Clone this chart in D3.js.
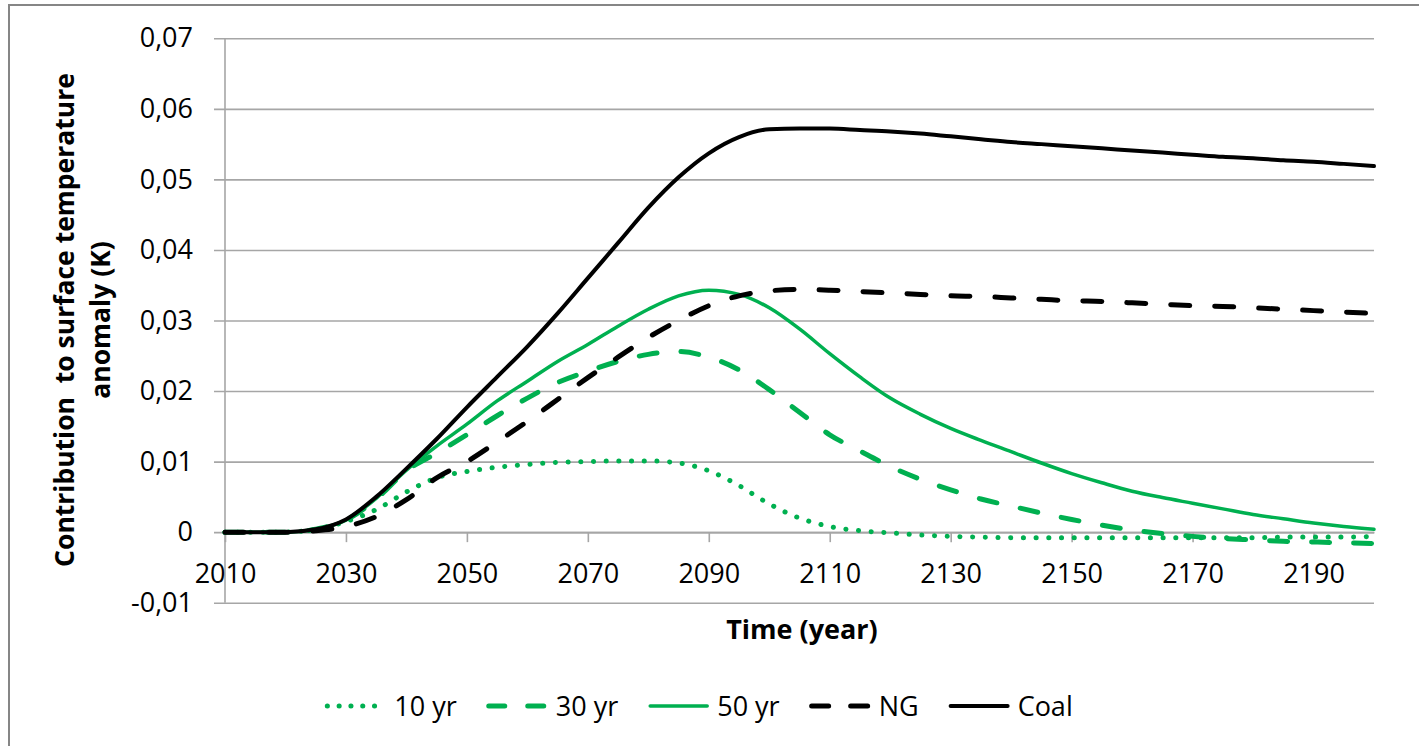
<!DOCTYPE html>
<html>
<head>
<meta charset="utf-8">
<script src="https://cdn.jsdelivr.net/npm/d3@7"></script>
<style>
  body { margin: 0; background: #fff; }
  svg { display: block; font-family: "Open Sans", sans-serif; }
</style>
</head>
<body>
<div id="chart"></div>
<script>
// years on the x axis, one value every 5 years
const years = d3.range(2010, 2201, 5);

const yr10 = [0, 0, 0, 0.0004, 0.0015, 0.0032, 0.0057, 0.0077, 0.0086, 0.0092, 0.0096, 0.0099, 0.0100, 0.0101, 0.0101, 0.0098, 0.0087, 0.0066, 0.0040, 0.0020, 0.0008, 0.0002, -0.0001, -0.0004, -0.0006, -0.0007, -0.0008, -0.0008, -0.0008, -0.0008, -0.0008, -0.0008, -0.0008, -0.0008, -0.0008, -0.0007, -0.0007, -0.0007, -0.0006];
const yr30 = [0, 0, 0, 0.0004, 0.0017, 0.0047, 0.0087, 0.0112, 0.0138, 0.0165, 0.0190, 0.0212, 0.0228, 0.0242, 0.0252, 0.0256, 0.0248, 0.0230, 0.0202, 0.0170, 0.0138, 0.0115, 0.0093, 0.0075, 0.0060, 0.0047, 0.0037, 0.0027, 0.0018, 0.0010, 0.0003, -0.0002, -0.0006, -0.0009, -0.0011, -0.0013, -0.0014, -0.0015, -0.0016];
const yr50 = [0, 0, 0, 0.0004, 0.0017, 0.0048, 0.0088, 0.0122, 0.0153, 0.0186, 0.0214, 0.0242, 0.0266, 0.0292, 0.0316, 0.0335, 0.0343, 0.0337, 0.0318, 0.0288, 0.0253, 0.0220, 0.0190, 0.0167, 0.0147, 0.0130, 0.0114, 0.0098, 0.0083, 0.0070, 0.0058, 0.0049, 0.0041, 0.0033, 0.0025, 0.0019, 0.0013, 0.0008, 0.0004];
const ng = [0, 0, 0, 0.0002, 0.0008, 0.0022, 0.0046, 0.0077, 0.0100, 0.0128, 0.0157, 0.0188, 0.0219, 0.0248, 0.0276, 0.0300, 0.0321, 0.0335, 0.0342, 0.0344, 0.0343, 0.0341, 0.0339, 0.0337, 0.0335, 0.0334, 0.0332, 0.0330, 0.0328, 0.0327, 0.0325, 0.0323, 0.0321, 0.0320, 0.0318, 0.0316, 0.0314, 0.0312, 0.0310];
const coal = [0, 0, 0, 0.0004, 0.0018, 0.0050, 0.0090, 0.0132, 0.0177, 0.0220, 0.0263, 0.0310, 0.0360, 0.0410, 0.0460, 0.0503, 0.0537, 0.0560, 0.0571, 0.0572, 0.0572, 0.0570, 0.0568, 0.0565, 0.0561, 0.0557, 0.0553, 0.0550, 0.0547, 0.0544, 0.0541, 0.0538, 0.0535, 0.0532, 0.0530, 0.0527, 0.0525, 0.0522, 0.0519];

const xTicks = d3.range(2010, 2191, 20);
const yTicks = [-0.01, 0, 0.01, 0.02, 0.03, 0.04, 0.05, 0.06, 0.07];

const seriesNames = ['10 yr', '30 yr', '50 yr', 'NG', 'Coal'];

const green = '#00b050';
const styles = [
  { color: green, width: 5, dash: '0.1 12.6', legendDash: '0.1 11.7' },
  { color: green, width: 5, dash: '18 24', legendDash: '16 23' },
  { color: green, width: 3.5, dash: null, legendDash: null },
  { color: '#000', width: 5, dash: '19 25', legendDash: '17 22' },
  { color: '#000', width: 4, dash: null, legendDash: null }
];
const seriesValues = [yr10, yr30, yr50, ng, coal];

const w = 1419;
const h = 746;
const plotL = 225, plotR = 1374, plotT = 38.3, plotB = 602.7;
const font = '"Open Sans", sans-serif';

const svg = d3.select('#chart').append('svg').attr('width', w).attr('height', h);

// outer chart border (runs off the right and bottom edges)
svg.append('rect').attr('x', 9).attr('y', 5).attr('width', 1440).attr('height', 780)
  .attr('fill', '#fff').attr('stroke', '#868686').attr('stroke-width', 2);

const xScale = d3.scaleLinear().domain([2010, 2200]).range([plotL, plotR]);
const yScale = d3.scaleLinear().domain([-0.01, 0.07]).range([plotB, plotT]);

const fmt = d3.format('.2f');
const yAxis = d3.axisLeft(yScale)
  .tickValues(yTicks)
  .tickSizeInner(-(plotR - 214))
  .tickSizeOuter(0)
  .tickPadding(21)
  .tickFormat(d => d === 0 ? '0' : fmt(d).replace('.', ',').replace('\u2212', '-'));

const gy = svg.append('g').attr('transform', 'translate(214,0)').call(yAxis)
  .attr('font-family', font).attr('font-size', 27);
gy.select('.domain').remove();
gy.selectAll('.tick line').attr('stroke', '#a6a6a6').attr('stroke-width', 1.6);
gy.selectAll('.tick text').attr('fill', '#000');

// vertical axis line
svg.append('line').attr('x1', plotL).attr('x2', plotL).attr('y1', plotT).attr('y2', plotB)
  .attr('stroke', '#a6a6a6').attr('stroke-width', 1.6);

const xAxis = d3.axisBottom(xScale)
  .tickValues(xTicks)
  .tickSizeInner(10)
  .tickSizeOuter(0)
  .tickPadding(22)
  .tickFormat(d3.format('d'));

const gx = svg.append('g').attr('transform', 'translate(0,' + yScale(0) + ')').call(xAxis)
  .attr('font-family', font).attr('font-size', 27);
gx.select('.domain').attr('stroke', '#a6a6a6').attr('stroke-width', 1.6);
gx.selectAll('.tick line').attr('stroke', '#a6a6a6').attr('stroke-width', 1.6);
gx.selectAll('.tick text').attr('fill', '#000');

// series
const line = d3.line()
  .x((d, i) => xScale(years[i]))
  .y(d => yScale(d))
  .curve(d3.curveMonotoneX);

seriesValues.forEach((vals, k) => {
  const s = styles[k];
  svg.append('path')
    .datum(vals)
    .attr('d', line)
    .attr('fill', 'none')
    .attr('stroke', s.color)
    .attr('stroke-width', s.width)
    .attr('stroke-linecap', 'round')
    .attr('stroke-linejoin', 'round')
    .attr('stroke-dasharray', s.dash);
});

// axis titles
svg.append('text')
  .attr('x', 802).attr('y', 639)
  .attr('text-anchor', 'middle')
  .attr('font-size', 27).attr('font-weight', 'bold')
  .text('Time (year)');

const yTitle = svg.append('text')
  .attr('transform', 'translate(74,320) rotate(-90)')
  .attr('text-anchor', 'middle')
  .attr('font-size', 26.5).attr('font-weight', 'bold')
  .style('white-space', 'pre');
yTitle.append('tspan').attr('x', 0).attr('y', 0).text('Contribution  to surface temperature');
yTitle.append('tspan').attr('x', 0).attr('y', 36).text('anomaly (K)');

// legend
const legend = svg.append('g');
const sampleLen = 61, textGap = 8, itemGap = 30;
let lx = 0;
seriesNames.forEach((name, k) => {
  const s = styles[k];
  const g = legend.append('g').attr('transform', 'translate(' + lx + ',0)');
  g.append('line')
    .attr('x1', 2).attr('x2', sampleLen - 2).attr('y1', 0).attr('y2', 0)
    .attr('stroke', s.color).attr('stroke-width', s.width)
    .attr('stroke-linecap', 'round')
    .attr('stroke-dasharray', s.legendDash);
  const t = g.append('text')
    .attr('x', sampleLen + textGap).attr('y', 0).attr('dy', '0.36em')
    .attr('font-size', 27)
    .text(name);
  lx += sampleLen + textGap + t.node().getComputedTextLength() + itemGap;
});
lx -= itemGap;
legend.attr('transform', 'translate(' + (699 - lx / 2) + ',706)');
</script>
</body>
</html>
